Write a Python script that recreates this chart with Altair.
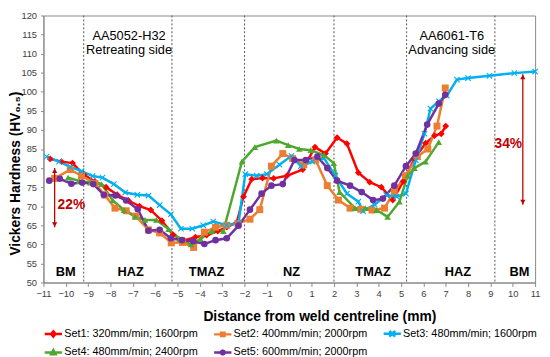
import altair as alt
import pandas as pd

series_names = ["Set1: 320mm/min; 1600rpm", "Set2: 400mm/min; 2000rpm",
                "Set3: 480mm/min; 1600rpm", "Set4: 480mm/min; 2400rpm",
                "Set5: 600mm/min; 2000rpm"]
series_colors = ["#FF0000", "#ED7D31", "#00B0F0", "#4EA72E", "#7030A0"]

x1 = [-10.7, -10.2, -9.7, -9.2, -8.7, -8.2, -7.7, -7.2, -6.7, -6.2, -5.7, -5.2, -4.7, -4.2, -3.7, -3.2,
      -2.8, -2.35, -2.05, -1.68, -1.2, -0.7, -0.1, 0.6, 1.15, 1.62, 2.14, 2.58, 3.09, 3.6, 4.12, 4.63,
      5.1, 5.6, 6.1, 6.5, 6.8, 7.0]
y1 = [82.4, 81.7, 81.3, 78.3, 76.5, 75.0, 73.0, 71.5, 70.0, 69.0, 66.2, 62.5, 61.0, 61.9, 62.4, 63.5,
      64.5, 65.7, 72.5, 77.1, 77.4, 77.3, 78.0, 79.6, 85.5, 83.8, 88.0, 86.4, 78.8, 76.3, 75.0, 71.6,
      76.5, 82.5, 86.5, 88.5, 89.0, 91.0]

x2 = [-10.5, -9.8, -9.3, -8.7, -8.25, -7.8, -7.3, -6.87, -6.3, -5.8, -5.28, -4.78, -4.28, -3.8, -3.3,
      -2.8, -2.3, -1.76, -1.32, -0.8, -0.29, 0.15, 0.65, 1.18, 1.7, 2.2, 2.72, 3.2, 3.7, 4.26, 4.7,
      5.2, 5.73, 6.2, 6.61, 6.98]
y2 = [77.3, 79.6, 78.0, 76.0, 72.9, 69.5, 68.8, 67.4, 63.8, 63.0, 60.4, 60.5, 59.2, 63.2, 64.5,
      65.0, 65.5, 66.6, 69.1, 80.5, 83.8, 82.5, 80.9, 82.1, 75.4, 71.6, 69.5, 69.2, 69.0, 69.5, 73.9,
      78.0, 83.0, 85.0, 91.0, 101.0]

x3 = [-10.86, -10.3, -9.8, -9.3, -8.8, -8.36, -7.85, -7.34, -6.8, -6.3, -5.8, -5.3, -4.85, -4.34,
      -3.85, -3.4, -2.8, -2.27, -1.97, -1.46, -1.0, -0.44, 0.1, 0.52, 1.04, 1.55, 2.06, 2.58, 3.09,
      3.3, 3.82, 4.34, 4.8, 5.22, 5.66, 6.05, 6.32, 6.7, 7.05, 7.5, 8.0, 8.96, 10.07, 11.0]
y3 = [83.0, 81.7, 80.3, 79.2, 77.9, 77.5, 75.8, 73.6, 73.0, 72.8, 70.3, 67.9, 64.1, 64.1,
      65.0, 66.0, 65.0, 65.7, 78.4, 78.0, 78.4, 80.9, 83.2, 80.5, 81.7, 82.6, 78.0, 73.3, 71.2,
      68.7, 70.4, 72.9, 72.5, 73.3, 82.1, 89.0, 95.6, 97.5, 99.0, 103.2, 103.6, 104.2, 104.9, 105.3]

x4 = [-9.9, -9.4, -8.9, -8.4, -7.9, -7.4, -6.9, -6.46, -5.95, -5.4, -4.9, -4.4, -3.97, -3.46, -2.95,
      -2.12, -1.54, -0.58, -0.05, 0.45, 0.96, 1.55, 1.99, 2.25, 2.94, 3.4, 3.9, 4.4, 4.93, 5.3, 5.6,
      6.1, 6.69]
y4 = [77.5, 76.6, 76.2, 75.8, 71.5, 69.0, 67.3, 66.4, 66.4, 64.0, 61.4, 60.0, 61.4, 63.5, 63.5,
      81.7, 85.5, 87.2, 86.0, 85.0, 84.7, 83.4, 81.3, 73.7, 69.5, 69.5, 69.0, 67.2, 71.2, 78.0, 80.0,
      81.7, 86.8]

x5 = [-10.74, -10.27, -9.75, -9.27, -8.77, -8.3, -7.78, -7.3, -6.78, -6.3, -5.8, -5.3, -4.8, -4.3,
      -3.8, -3.3, -2.8, -2.27, -1.76, -1.24, -0.8, -0.29, 0.23, 0.74, 1.26, 1.7, 2.14, 2.72, 3.24,
      3.75, 4.19, 4.7, 5.22, 5.66, 6.17, 6.69, 6.98]
y5 = [76.7, 77.2, 75.9, 76.2, 75.8, 73.0, 72.8, 71.5, 69.2, 63.6, 63.8, 61.6, 61.1, 60.8,
      60.1, 61.1, 61.6, 64.9, 69.1, 73.3, 75.4, 75.8, 82.1, 82.1, 83.0, 80.0, 76.7, 75.4, 73.7,
      71.6, 72.0, 75.4, 80.5, 83.8, 91.4, 96.9, 99.2]

x_ticks = list(range(-11, 12))
y_ticks = list(range(50, 121, 5))

zone_bounds = [-9.2, -5.25, -2.0, 2.0, 5.25, 9.2]
zone_names = ["BM", "HAZ", "TMAZ", "NZ", "TMAZ", "HAZ", "BM"]
zone_x = [-10.0, -7.1, -3.7, 0.1, 3.75, 7.55, 10.3]
zone_y = [52.7] * 7

side_labels = ["AA5052-H32\nRetreating side", "AA6061-T6\nAdvancing side"]
side_x = [-7.17, 7.27]
side_y = [114.5, 114.5]

arrow_x = [-10.5, 10.45]
arrow_top = [80.0, 104.6]
arrow_bottom = [64.5, 70.4]
head_x = [-10.5, -10.5, 10.45, 10.45]
head_y = [79.3, 65.2, 103.9, 71.1]
head_angle = [0, 180, 0, 180]
pct_labels = ["22%", "34%"]
pct_x = [-9.75, 9.8]
pct_y = [70.4, 86.4]

FONT = "Liberation Sans"

rows = []
for name, xs, ys in zip(series_names, [x1, x2, x3, x4, x5], [y1, y2, y3, y4, y5]):
    for i, (a, b) in enumerate(zip(xs, ys)):
        rows.append({"series": name, "x": a, "y": b, "order": i})
df = pd.DataFrame(rows)

xscale = alt.Scale(domain=[-11, 11], nice=False, zero=False)
yscale = alt.Scale(domain=[50, 120], nice=False, zero=False)

xaxis = alt.Axis(values=x_ticks, title="Distance from weld centreline (mm)", labelFlush=False,
                 labelOverlap=False, titleX=280, titleY=28, titleFontSize=14)
yaxis = alt.Axis(values=y_ticks, title="Vickers Hardness (HV₀.₅)", titleX=-21, titleY=160,
                 labelOverlap=False, titleFontSize=14, labelPadding=4, tickSize=3)


def X(f="x:Q"):
    return alt.X(f, scale=xscale, axis=xaxis)


def Y(f="y:Q"):
    return alt.Y(f, scale=yscale, axis=yaxis)


# stroked legend symbols: line + small marker outline (unit box -1..1)
ln = "M-1,0L1,0"
leg_shapes = [
    ln + "M0,-0.3L0.25,0L0,0.3L-0.25,0Z",
    ln + "M-0.2,-0.2L0.2,-0.2L0.2,0.2L-0.2,0.2Z",
    ln + "M-0.33,-0.33L0.33,0.33M-0.33,0.33L0.33,-0.33",
    ln + "M0,-0.28L0.26,0.2L-0.26,0.2Z",
    ln + "M-0.22,0L-0.16,-0.16L0,-0.22L0.16,-0.16L0.22,0L0.16,0.16L0,0.22L-0.16,0.16Z",
]
shape_expr = ("[" + ",".join("'" + p + "'" for p in leg_shapes) + "][indexof(["
              + ",".join("'" + n + "'" for n in series_names) + "], datum.value)]")

legend = alt.Legend(
    title=None, orient="bottom", direction="horizontal", offset=0,
    columns=3, columnPadding=11, rowPadding=1,
    symbolSize=306, symbolStrokeWidth=2.5, symbolOpacity=1, labelOffset=1,
    symbolType=alt.ExprRef(shape_expr),
    labelFontSize=11, labelFont=FONT, labelColor="#000",
)

lines = alt.Chart(df).mark_line(strokeWidth=2.5).encode(
    x=X(), y=Y(),
    color=alt.Color("series:N", scale=alt.Scale(domain=series_names, range=series_colors),
                    legend=legend),
    detail="series:N",
    order="order:Q",
)

xpath_chart = ("M0.601,0.813L-0.813,-0.601L-0.601,-0.813L0.813,0.601Z"
               "M-0.601,0.813L-0.813,0.601L0.601,-0.813L0.813,-0.601Z")
chart_shapes = ["diamond", "square", xpath_chart, "triangle-up", "circle"]
chart_sizes = [48, 50, 60, 45, 45]

point_layers = []
for name, col, shp, sz in zip(series_names, series_colors, chart_shapes, chart_sizes):
    point_layers.append(
        alt.Chart(df).transform_filter(alt.datum.series == name)
        .mark_point(filled=True, opacity=1, shape=shp, size=sz, color=col)
        .encode(x=X(), y=Y())
    )

vlines = alt.Chart(pd.DataFrame({"x": zone_bounds})).mark_rule(
    color="#555555", strokeDash=[2, 2], strokeWidth=1).encode(x=X())

zones = alt.Chart(pd.DataFrame({"x": zone_x, "y": zone_y, "t": zone_names})).mark_text(
    font=FONT, fontSize=13, fontWeight="bold", color="#000").encode(x=X(), y=Y(), text="t:N")

sides = alt.Chart(pd.DataFrame({"x": side_x, "y": side_y, "t": side_labels})).mark_text(
    font=FONT, fontSize=13, color="#000", lineBreak="\n", lineHeight=14).encode(
    x=X(), y=Y(), text="t:N")

arrows = alt.Chart(pd.DataFrame({"x": arrow_x, "y": arrow_top, "y2": arrow_bottom})).mark_rule(
    color="#C00000", strokeWidth=1.3).encode(x=X(), y=Y(), y2="y2:Q")

heads = alt.Chart(pd.DataFrame({"x": head_x, "y": head_y, "a": head_angle})).mark_point(
    shape="triangle-up", filled=True, opacity=1, size=28, color="#C00000").encode(
    x=X(), y=Y(), angle=alt.Angle("a:Q", scale=None))

pcts = alt.Chart(pd.DataFrame({"x": pct_x, "y": pct_y, "t": pct_labels})).mark_text(
    font=FONT, fontSize=14, fontWeight="bold", color="#C00000").encode(x=X(), y=Y(), text="t:N")

chart = alt.layer(
    vlines, zones, sides, lines, *point_layers, arrows, heads, pcts
).properties(
    width=499, height=271,
    autosize=alt.AutoSizeParams(type="none"),
    padding={"left": 36, "top": 5, "right": 7, "bottom": 74},
).configure_view(
    stroke="#888888", strokeWidth=1
).configure_axis(
    labelFont=FONT, titleFont=FONT, labelFontSize=9.5, labelColor="#404040",
    titleColor="#000", titleFontWeight="bold", grid=False,
    domainColor="#888888", tickColor="#888888", tickSize=4,
)

chart.save("out.html", embed_options={"renderer": "svg", "actions": False})
